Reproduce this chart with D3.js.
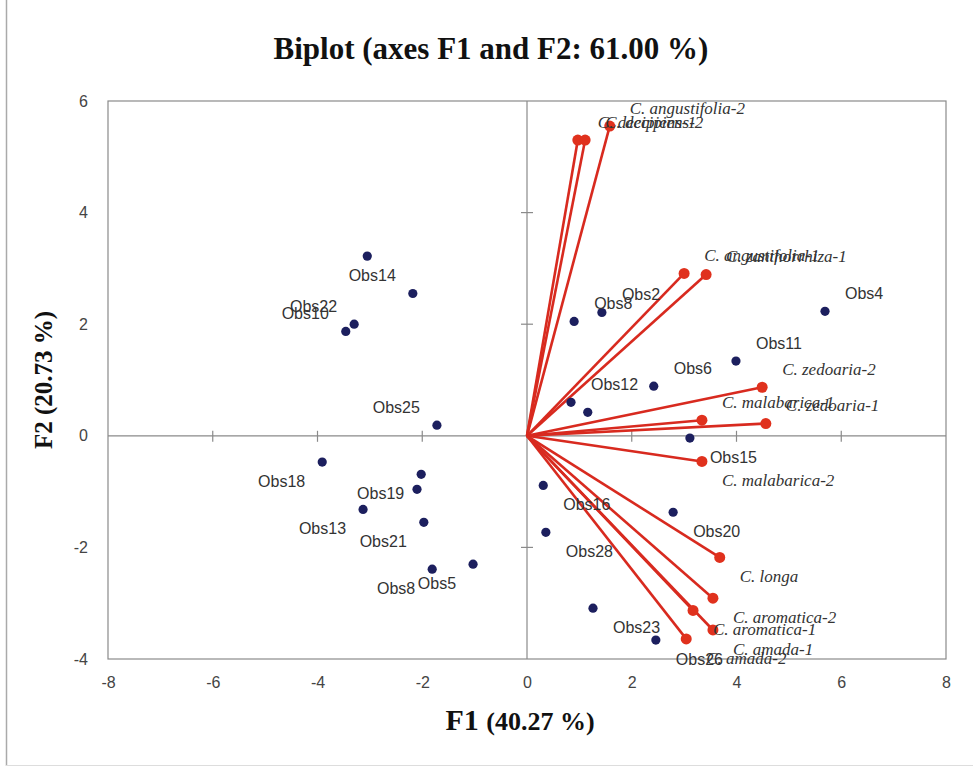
<!DOCTYPE html>
<html>
<head>
<meta charset="utf-8">
<script src="https://cdn.jsdelivr.net/npm/d3@7"></script>
<style>
  body { margin: 0; background: #fff; }
  .tick text { font-family: "Liberation Sans Narrow", "Liberation Sans", sans-serif; font-size: 16px; fill: #444; }
</style>
</head>
<body>
<div class="biplot"></div>
<script>
// biplot of F1 / F2 - variables (red vectors) and observations (blue points)

var xTicks = [-8, -6, -4, -2, 0, 2, 4, 6, 8];
var yTicks = [-4, -2, 0, 2, 4, 6];

// variables
var varNames = ["C. angustifolia-2", "C. decipiens-1", "C. decipiens-2", "C. angustifolia-1",
    "C. zanthorrhiza-1", "C. zedoaria-2", "C. malabarica-1", "C. zedoaria-1", "C. malabarica-2",
    "C. longa", "C. aromatica-2", "C. aromatica-1", "C. amada-1", "C. amada-2"];
var varF1 = [1.58, 0.97, 1.11, 3.00, 3.42, 4.49, 3.34, 4.56, 3.34, 3.68, 3.55, 3.17, 3.55, 3.04];
var varF2 = [5.55, 5.30, 5.30, 2.91, 2.89, 0.87, 0.28, 0.22, -0.46, -2.18, -2.91, -3.13, -3.48, -3.64];

// observations ("" = no label shown)
var obsNames = ["", "Obs14", "Obs22", "Obs10", "Obs25", "Obs18", "Obs19", "", "Obs13", "Obs21",
    "Obs8", "Obs5", "Obs8", "Obs2", "Obs4", "Obs11", "Obs6", "Obs12", "", "Obs15", "Obs20",
    "Obs16", "Obs28", "Obs23", "Obs26"];
var obsF1 = [-3.05, -2.18, -3.30, -3.46, -1.72, -3.91, -2.02, -2.10, -3.13, -1.97,
    -1.81, -1.03, 0.90, 1.43, 5.69, 3.99, 2.42, 0.84, 1.16, 3.11, 2.79,
    0.31, 0.36, 1.26, 2.46];
var obsF2 = [3.22, 2.55, 2.00, 1.87, 0.19, -0.47, -0.69, -0.96, -1.32, -1.55,
    -2.39, -2.30, 2.05, 2.21, 2.23, 1.34, 0.89, 0.60, 0.42, -0.04, -1.37,
    -0.89, -1.73, -3.09, -3.66];

var W = 973, H = 767;
var margin = {top: 101, right: 27, bottom: 108, left: 108},
    width = W - margin.left - margin.right,
    height = H - margin.top - margin.bottom;

var x = d3.scaleLinear().domain([-8, 8]).range([0, width]);
var y = d3.scaleLinear().domain([-4, 6]).range([height, 0]);

var root = d3.select(".biplot").append("svg")
    .attr("width", W)
    .attr("height", H);

// outer frame edges
root.append("line").attr("x1", 6.5).attr("x2", 6.5).attr("y1", 0).attr("y2", H - 1)
    .style("stroke", "#aaa").style("stroke-width", 1.5);
root.append("line").attr("x1", 6).attr("x2", W).attr("y1", H - 1.5).attr("y2", H - 1.5)
    .style("stroke", "#ddd");

// title
root.append("text")
    .attr("x", 491).attr("y", 59)
    .attr("text-anchor", "middle")
    .style("font-family", "Liberation Serif, serif")
    .style("font-weight", "bold")
    .style("font-size", "31px")
    .style("fill", "#111")
    .text("Biplot (axes F1 and F2: 61.00 %)");

var svg = root.append("g")
    .attr("transform", "translate(" + margin.left + "," + margin.top + ")");

// frame
svg.append("rect")
    .attr("width", width).attr("height", height)
    .style("fill", "none").style("stroke", "#8a8a8a").style("stroke-width", 1.2);

var fmt = function(d) { return String(d); };

// tick labels along the frame
svg.append("g")
    .attr("transform", "translate(0," + height + ")")
    .call(d3.axisBottom(x).tickValues(xTicks).tickFormat(fmt).tickSize(0).tickPadding(18))
    .call(function(g) { g.select(".domain").remove(); });

svg.append("g")
    .call(d3.axisLeft(y).tickValues(yTicks).tickFormat(fmt).tickSize(0).tickPadding(20))
    .call(function(g) { g.select(".domain").remove(); });

// zero axes
svg.append("line")
    .attr("x1", 0).attr("x2", width).attr("y1", y(0)).attr("y2", y(0))
    .style("stroke", "#8a8a8a").style("stroke-width", 1.2);
svg.append("line")
    .attr("x1", x(0)).attr("x2", x(0)).attr("y1", 0).attr("y2", height)
    .style("stroke", "#8a8a8a").style("stroke-width", 1.2);

// small tick marks on the zero axes
svg.selectAll(".xtick")
    .data(xTicks.filter(function(d) { return d > -8 && d < 8 && d !== 0; }))
    .enter().append("line")
    .attr("x1", function(d) { return x(d); }).attr("x2", function(d) { return x(d); })
    .attr("y1", y(0) - 5).attr("y2", y(0) + 6)
    .style("stroke", "#8a8a8a").style("stroke-width", 1.2);
svg.selectAll(".ytick")
    .data(yTicks.filter(function(d) { return d > -4 && d < 6 && d !== 0; }))
    .enter().append("line")
    .attr("y1", function(d) { return y(d); }).attr("y2", function(d) { return y(d); })
    .attr("x1", x(0) - 6).attr("x2", x(0) + 6)
    .style("stroke", "#8a8a8a").style("stroke-width", 1.2);

var vars = varNames.map(function(n, i) { return {name: n, f1: varF1[i], f2: varF2[i]}; });
var obs = obsNames.map(function(n, i) { return {name: n, f1: obsF1[i], f2: obsF2[i]}; });

// vectors
svg.selectAll(".vec")
    .data(vars)
    .enter().append("line")
    .attr("class", "vec")
    .attr("x1", x(0)).attr("y1", y(0))
    .attr("x2", function(d) { return x(d.f1); })
    .attr("y2", function(d) { return y(d.f2); })
    .style("stroke", "#d82a1f").style("stroke-width", 2.6);

svg.selectAll(".vdot")
    .data(vars)
    .enter().append("circle")
    .attr("cx", function(d) { return x(d.f1); })
    .attr("cy", function(d) { return y(d.f2); })
    .attr("r", 5.5)
    .style("fill", "#e0311d");

svg.selectAll(".odot")
    .data(obs)
    .enter().append("circle")
    .attr("cx", function(d) { return x(d.f1); })
    .attr("cy", function(d) { return y(d.f2); })
    .attr("r", 4.6)
    .style("fill", "#1c1f5e");

// labels go diagonally outward from each point
function placeLabel(sel) {
    sel.attr("x", function(d) { return x(d.f1) + (d.f1 < 0 ? -17 : 20); })
        .attr("y", function(d) { return y(d.f2) + (d.f2 < 0 ? 19 : -18); })
        .attr("dy", "0.35em")
        .attr("text-anchor", function(d) { return d.f1 < 0 ? "end" : "start"; });
}

svg.selectAll(".olab")
    .data(obs.filter(function(d) { return d.name !== ""; }))
    .enter().append("text")
    .call(placeLabel)
    .style("font-family", "Liberation Sans, sans-serif")
    .style("font-size", "16px")
    .style("fill", "#333")
    .text(function(d) { return d.name; });

svg.selectAll(".vlab")
    .data(vars)
    .enter().append("text")
    .call(placeLabel)
    .style("font-family", "Liberation Serif, serif")
    .style("font-style", "italic")
    .style("font-size", "17px")
    .style("fill", "#333")
    .text(function(d) { return d.name; });

// axis titles
var xt = root.append("text")
    .attr("x", 520).attr("y", 730)
    .attr("text-anchor", "middle")
    .style("font-family", "Liberation Serif, serif")
    .style("font-weight", "bold")
    .style("fill", "#111");
xt.append("tspan").style("font-size", "30px").text("F1 ");
xt.append("tspan").style("font-size", "26px").text("(40.27 %)");

root.append("text")
    .attr("transform", "translate(52,380) rotate(-90)")
    .attr("text-anchor", "middle")
    .style("font-family", "Liberation Serif, serif")
    .style("font-weight", "bold")
    .style("font-size", "25px")
    .style("fill", "#111")
    .text("F2 (20.73 %)");
</script>
</body>
</html>
